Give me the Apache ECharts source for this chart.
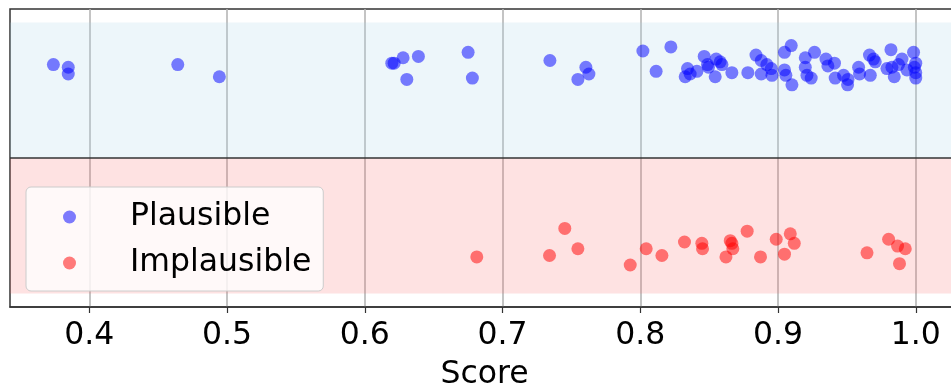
<!DOCTYPE html>
<html>
<head>
<meta charset="utf-8">
<script src="https://cdn.jsdelivr.net/npm/echarts@6/dist/echarts.min.js"></script>
<style>html,body{margin:0;padding:0;background:#fff;overflow:hidden;}#c{width:960px;height:385px;}</style>
</head>
<body>
<div id="c"></div>
<script>
const ticks = [0.4, 0.5, 0.6, 0.7, 0.8, 0.9, 1.0];
const categories = ['Plausible', 'Implausible'];
const bandRanges = [[-0.5, 0.5], [0.5, 1.5]];
const dividerY = 0.5;

const plausibleScore = [
  0.3739, 0.3847, 0.3847, 0.4642, 0.4944, 0.6196, 0.6213, 0.6278, 0.6389, 0.6305,
  0.675, 0.6781, 0.7344, 0.7605, 0.7627, 0.7547, 0.8019, 0.8222, 0.8115, 0.8343,
  0.8326, 0.8362, 0.8411, 0.8464, 0.8488, 0.8495, 0.8551, 0.858, 0.8593, 0.8544,
  0.8665, 0.8781, 0.884, 0.8878, 0.8919, 0.8951, 0.8878, 0.8956, 0.9047, 0.9096,
  0.9047, 0.9057, 0.9101, 0.9198, 0.9265, 0.9198, 0.921, 0.9241, 0.9348, 0.9362,
  0.941, 0.9415, 0.9476, 0.9505, 0.9508, 0.9585, 0.9592, 0.9664, 0.9693, 0.9706,
  0.967, 0.982, 0.9791, 0.9827, 0.9844, 0.99, 0.9875, 0.9936, 0.9984, 1.0,
  1.0, 1.0, 0.999
];
const plausibleJitter = [
  -0.19, -0.17, -0.12, -0.19, -0.10, -0.20, -0.20, -0.24, -0.25, -0.08,
  -0.28, -0.09, -0.22, -0.17, -0.12, -0.08, -0.29, -0.32, -0.14, -0.16,
  -0.10, -0.12, -0.14, -0.25, -0.19, -0.17, -0.23, -0.21, -0.19, -0.10,
  -0.13, -0.13, -0.26, -0.22, -0.19, -0.16, -0.12, -0.11, -0.28, -0.33,
  -0.15, -0.11, -0.04, -0.24, -0.28, -0.17, -0.11, -0.09, -0.23, -0.18,
  -0.20, -0.09, -0.11, -0.04, -0.08, -0.17, -0.12, -0.26, -0.23, -0.21,
  -0.11, -0.30, -0.16, -0.17, -0.10, -0.23, -0.19, -0.15, -0.28, -0.20,
  -0.13, -0.09, -0.17
];
const implausibleScore = [
  0.6813, 0.7341, 0.7452, 0.7547, 0.7927, 0.8043, 0.8157, 0.8321, 0.8447, 0.8452,
  0.8653, 0.8665, 0.8672, 0.8622, 0.8776, 0.8873, 0.8987, 0.9047, 0.9089, 0.9118,
  0.9646, 0.9803, 0.9868, 0.9924, 0.9882
];
const implausibleJitter = [
  1.23, 1.22, 1.02, 1.17, 1.29, 1.17, 1.22, 1.12, 1.13, 1.17,
  1.11, 1.13, 1.17, 1.23, 1.04, 1.23, 1.10, 1.21, 1.06, 1.13,
  1.20, 1.10, 1.15, 1.17, 1.28
];

const FONT = 'DejaVu Sans';
const zip = (a, b) => a.map((v, i) => [v, b[i]]);

const chart = echarts.init(document.getElementById('c'), null, { renderer: 'canvas' });
chart.setOption({
  animation: false,
  backgroundColor: '#ffffff',
  grid: {
    left: 10, top: 9, right: 1, height: 298,
    containLabel: false, outerBoundsMode: 'none',
    show: true, borderColor: '#333333', borderWidth: 1.5, backgroundColor: 'transparent'
  },
  xAxis: {
    type: 'value',
    min: 0.3424, max: 1.0314,
    name: 'Score', nameLocation: 'middle', nameGap: 52,
    nameTextStyle: { fontFamily: FONT, fontSize: 31.5, color: '#000' },
    axisLine: { show: true, onZero: false, lineStyle: { color: '#333333', width: 1.5 } },
    axisTick: { show: true, length: 6, customValues: ticks, lineStyle: { color: '#333333', width: 1.2 } },
    axisLabel: {
      customValues: ticks, margin: 13, fontFamily: FONT, fontSize: 31.5, color: '#000',
      formatter: v => v.toFixed(1)
    },
    splitLine: { show: true, lineStyle: { color: '#b0b0b0', width: 1.5 } }
  },
  yAxis: {
    type: 'value', min: -0.6, max: 1.6, inverse: true,
    axisLine: { show: false }, axisTick: { show: false }, axisLabel: { show: false },
    splitLine: { show: false }
  },
  legend: {
    data: categories,
    orient: 'vertical', left: 26, top: 187,
    icon: 'circle', itemWidth: 13, itemHeight: 13, itemGap: 12,
    padding: [13, 12, 11, 37],
    backgroundColor: 'rgba(255,255,255,0.8)', borderColor: '#cccccc', borderWidth: 1, borderRadius: 5,
    textStyle: { fontFamily: FONT, fontSize: 31.5, color: '#000', lineHeight: 34, padding: [0, 0, 0, 49] }
  },
  series: [
    {
      name: 'bands', type: 'scatter', data: [], z: 1, silent: true,
      markArea: {
        silent: true,
        label: { show: false },
        data: [
          [{ yAxis: bandRanges[0][0], itemStyle: { color: 'rgba(173,216,230,0.22)' } }, { yAxis: bandRanges[0][1] }],
          [{ yAxis: bandRanges[1][0], itemStyle: { color: 'rgba(250,100,100,0.19)' } }, { yAxis: bandRanges[1][1] }]
        ]
      },
      markLine: {
        silent: true, symbol: ['none', 'none'], label: { show: false },
        lineStyle: { color: '#333333', width: 1.5, type: 'solid' },
        data: [{ yAxis: dividerY }]
      }
    },
    {
      name: categories[0], type: 'scatter', z: 3,
      symbol: 'circle', symbolSize: 13,
      itemStyle: { color: 'rgba(0,0,255,0.64)' },
      data: zip(plausibleScore, plausibleJitter)
    },
    {
      name: categories[1], type: 'scatter', z: 3,
      symbol: 'circle', symbolSize: 13,
      itemStyle: { color: 'rgba(255,0,0,0.64)' },
      data: zip(implausibleScore, implausibleJitter)
    }
  ]
});
</script>
</body>
</html>
